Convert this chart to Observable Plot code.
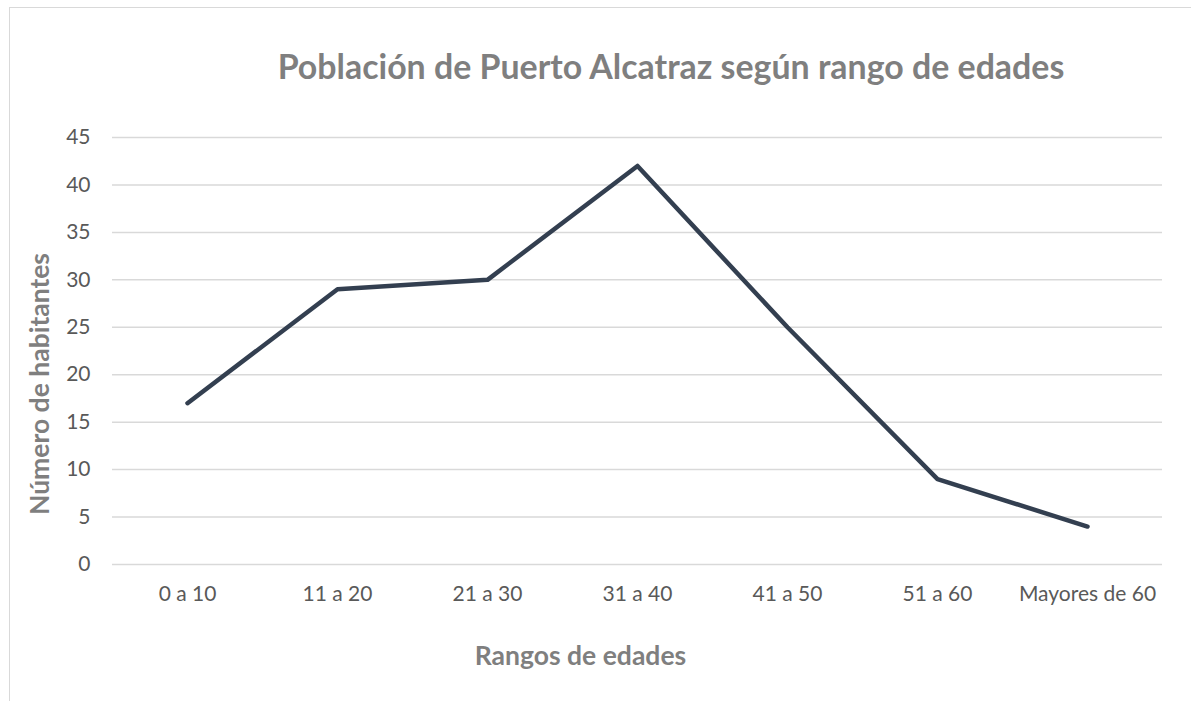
<!DOCTYPE html>
<html>
<head>
<meta charset="utf-8">
<script src="https://cdn.jsdelivr.net/npm/d3@7"></script>
<script src="https://cdn.jsdelivr.net/npm/@observablehq/plot@0.6"></script>
<style>
  html, body { margin: 0; padding: 0; background: #fff; }
  #frame { position: absolute; left: 9px; top: 7px; width: 1200px; height: 720px;
           border-left: 1.5px solid #d9d9d9; border-top: 1.5px solid #d9d9d9; }
  #chart { position: absolute; left: 0; top: 0; width: 1191px; }
  #title { height: 100px; line-height: 132px; text-align: center; padding-left: 151px; box-sizing: border-box; white-space: nowrap;
           font-family: Lato, "Open Sans", sans-serif; font-weight: bold; font-size: 33.9px; color: #7f7f7f; }
  svg { display: block; }
</style>
</head>
<body>
<div id="frame"></div>
<div id="chart"><div id="title">Población de Puerto Alcatraz según rango de edades</div></div>
<script>
const categories = ["0 a 10", "11 a 20", "21 a 30", "31 a 40", "41 a 50", "51 a 60", "Mayores de 60"];
const habitantes = [17, 29, 30, 42, 25, 9, 4];
const yTicks = [0, 5, 10, 15, 20, 25, 30, 35, 40, 45];
const xLabel = "Rangos de edades";
const yLabel = "Número de habitantes";

const data = categories.map((c, i) => ({rango: c, valor: habitantes[i]}));

const plot = Plot.plot({
  width: 1191,
  height: 601,
  marginLeft: 112,
  marginRight: 29,
  marginTop: 37,
  marginBottom: 137,
  style: {fontFamily: "Lato, 'Open Sans', sans-serif", fontSize: "21px", color: "#595959", background: "transparent"},
  x: {type: "point", domain: categories, padding: 0.5},
  y: {domain: [0, 45]},
  marks: [
    Plot.gridY(yTicks, {stroke: "#d9d9d9", strokeOpacity: 1, strokeWidth: 1.5}),
    Plot.axisY(yTicks, {tickSize: 0, tickPadding: 22, fontSize: 21, fill: "#595959", label: null}),
    Plot.axisX({tickSize: 0, tickPadding: 22, fontSize: 21, fill: "#595959", label: null}),
    Plot.line(data, {x: "rango", y: "valor", stroke: "#333f50", strokeWidth: 4.5, strokeLinejoin: "round", strokeLinecap: "round"}),
    Plot.text([xLabel], {frameAnchor: "bottom", textAnchor: "middle", dx: -57, dy: 100, text: d => d, fontSize: 26.5, fontWeight: "bold", fill: "#7f7f7f"}),
    Plot.text([yLabel], {frameAnchor: "left", textAnchor: "middle", dx: -72, dy: 33, rotate: -90, text: d => d, fontSize: 26.5, fontWeight: "bold", fill: "#7f7f7f"})
  ]
});
document.getElementById("chart").appendChild(plot);
</script>
</body>
</html>
